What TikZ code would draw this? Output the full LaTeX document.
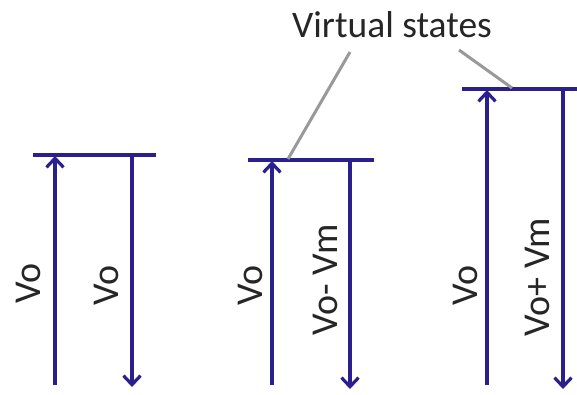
\documentclass[tikz,border=0pt]{standalone}
\usepackage{fontspec}
\setmainfont{Carlito}
\usetikzlibrary{arrows.meta}
\definecolor{lvl}{HTML}{2A1F8C}
\definecolor{ptr}{HTML}{999999}
\definecolor{txt}{HTML}{262626}
\tikzset{
  x=1pt,y=-1pt,
  level/.style={draw=lvl,line width=4pt},
  trans/.style={draw=lvl,line width=3.6pt,-{Straight Barb[length=9pt,width=17pt,line width=3.2pt]}},
  pointer/.style={draw=ptr,line width=3pt},
  lab/.style={text=txt,font=\fontsize{38}{38}\selectfont,rotate=90,inner sep=0pt},
}
\begin{document}
\begin{tikzpicture}
\useasboundingbox (0,0) rectangle (577,395);
% group 1
\coordinate (l1a) at (33,155); \coordinate (l1b) at (156,155);
\draw[level] (l1a) -- (l1b);
\coordinate (u1b) at (55,385); \coordinate (u1t) at (55,156);
\coordinate (d1t) at (132,156); \coordinate (d1b) at (132,387);
\draw[trans] (u1b) -- (u1t);
\draw[trans] (d1t) -- (d1b);
\node[lab] (t1a) at (28,283) {Vo};
\node[lab] (t1b) at (106,285) {Vo};
% group 2
\coordinate (l2a) at (248,160); \coordinate (l2b) at (374,160);
\draw[level] (l2a) -- (l2b);
\coordinate (u2b) at (272,385); \coordinate (u2t) at (272,161);
\coordinate (d2t) at (350,161); \coordinate (d2b) at (350,389);
\draw[trans] (u2b) -- (u2t);
\draw[trans] (d2t) -- (d2b);
\node[lab] (t2a) at (250,285) {Vo};
\node[lab] (t2b) at (325,280) {Vo- Vm};
% group 3
\coordinate (l3a) at (462,89); \coordinate (l3b) at (577,89);
\draw[level] (l3a) -- (l3b);
\coordinate (u3b) at (487,385); \coordinate (u3t) at (487,90);
\coordinate (d3t) at (563,90); \coordinate (d3b) at (563,389);
\draw[trans] (u3b) -- (u3t);
\draw[trans] (d3t) -- (d3b);
\node[lab] (t3a) at (465,285) {Vo};
\node[lab] (t3b) at (537,277) {Vo+ Vm};
% virtual states label
\node[text=txt,font=\fontsize{37.5}{38}\selectfont,inner sep=0pt] (vs) at (392,25) {Virtual states};
\coordinate (p1) at (350,52); \coordinate (p2) at (459,50);
\coordinate (q1) at (288,159); \coordinate (q2) at (512,88);
\draw[pointer] (p1) -- (q1);
\draw[pointer] (p2) -- (q2);
\end{tikzpicture}
\end{document}
